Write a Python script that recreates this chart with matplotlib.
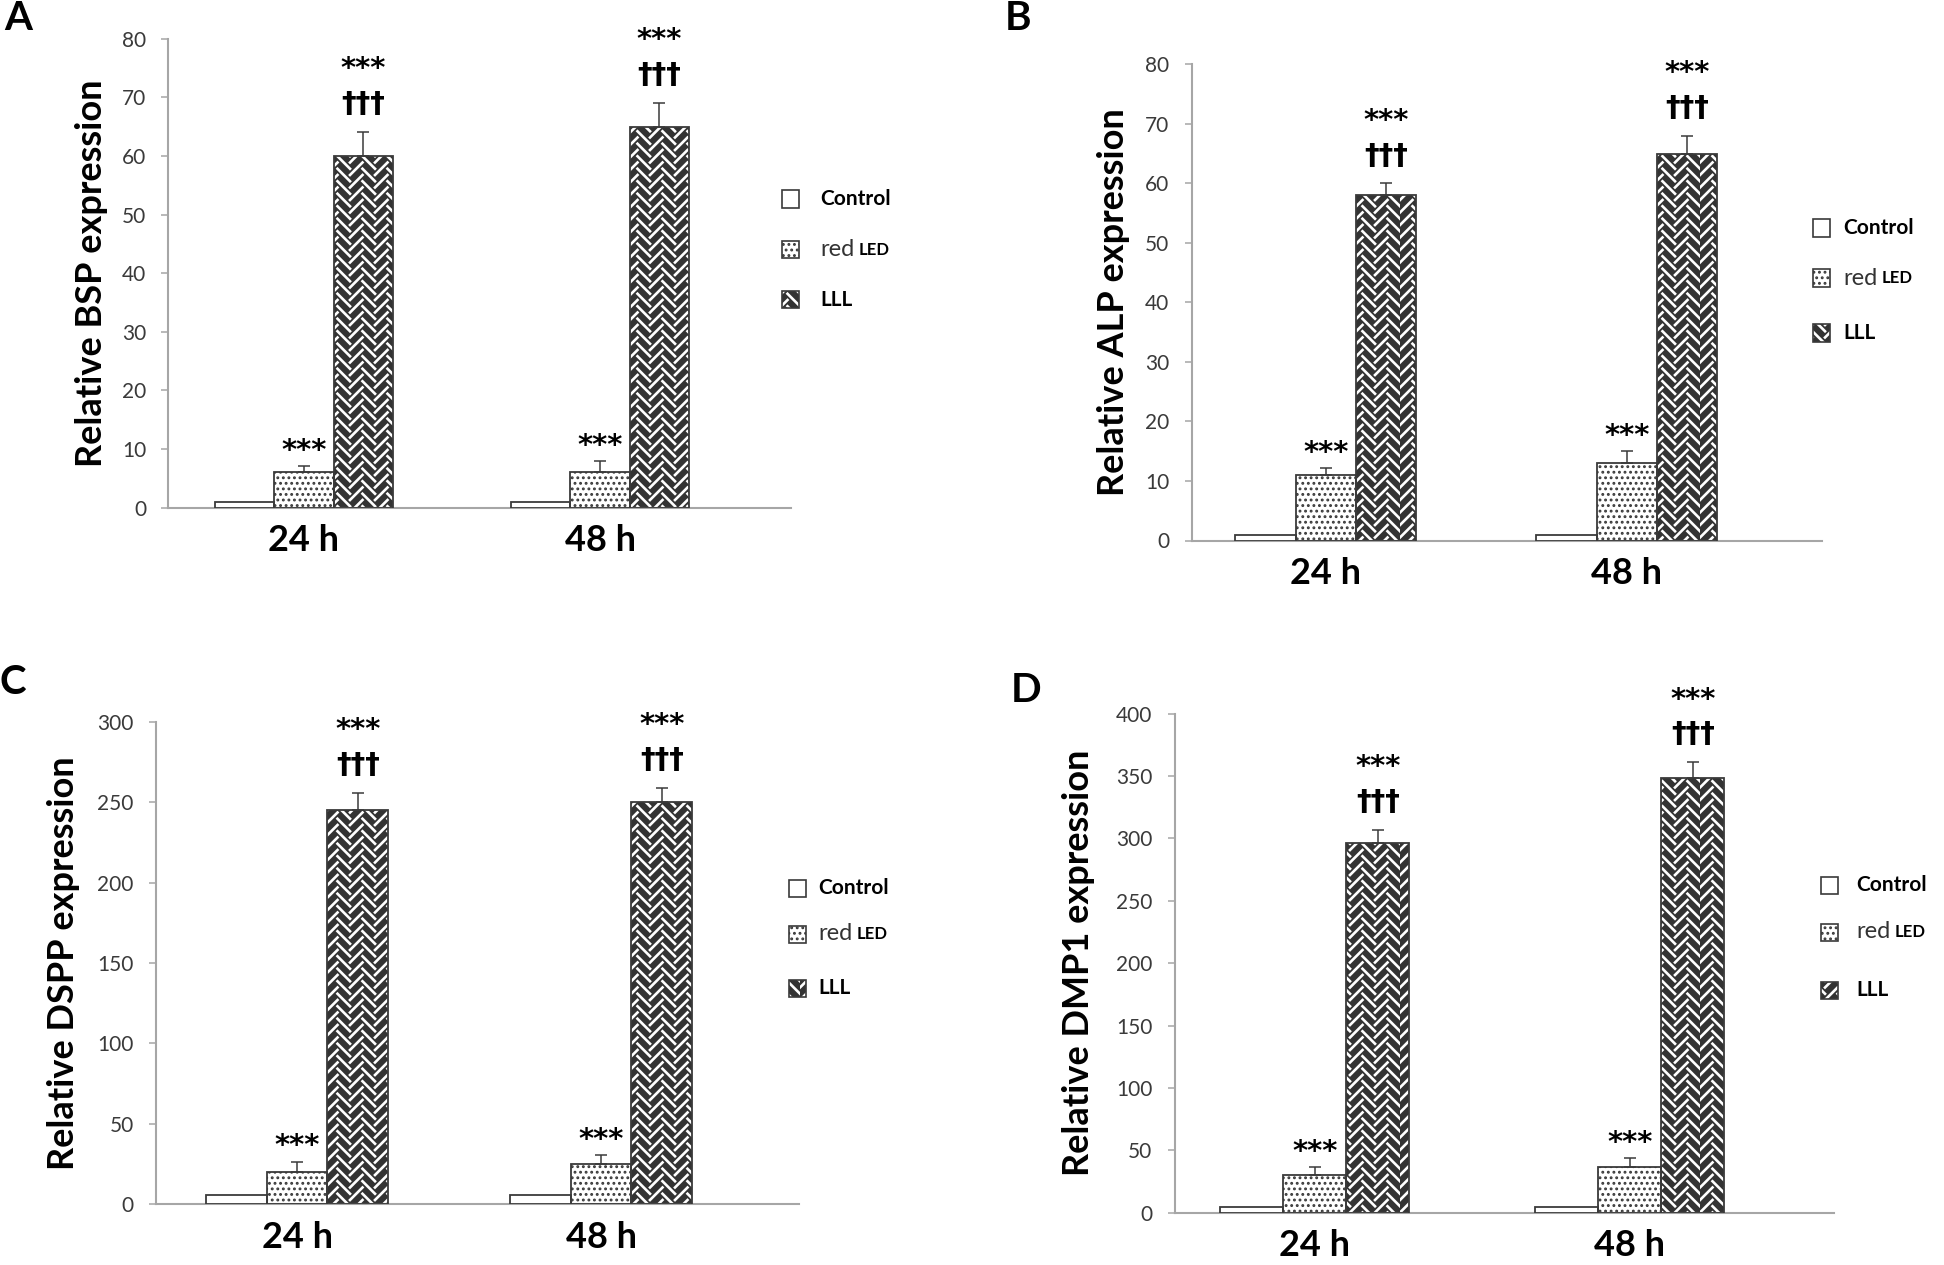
import warnings
import numpy as np
import matplotlib.pyplot as plt
import matplotlib.hatch as mhatch
from matplotlib.path import Path
from matplotlib.patches import Rectangle

warnings.filterwarnings("ignore", message="hatch must consist")


# Excel-like herringbone fill (hatch character 'z'): columns of diagonal
# strokes, alternating direction, every other column shifted half a step
class HerringboneHatch(mhatch.HatchPatternBase):
    def __init__(self, hatch, density):
        n = hatch.count('z')
        self.cols = 2 * int(round(n * density * 0.7))
        self.rows = self.cols
        self.num_vertices = self.cols * (self.rows + 3) * 2 if n else 0

    def set_vertices_and_codes(self, vertices, codes):
        c = 1.0 / self.cols
        s = 1.0 / self.rows
        k = 0
        for j in range(self.cols):
            xa, xb = j * c, (j + 1) * c
            shift = 0 if j % 2 == 0 else s / 2
            for i in range(-2, self.rows + 1):
                ya = i * s + shift
                if j % 2 == 0:
                    vertices[k] = (xa, ya)
                    vertices[k + 1] = (xb, ya + c)
                else:
                    vertices[k] = (xa, ya + c)
                    vertices[k + 1] = (xb, ya)
                codes[k] = Path.MOVETO
                codes[k + 1] = Path.LINETO
                k += 2


mhatch._hatch_types.append(HerringboneHatch)

plt.rcParams['font.family'] = ['Lato', 'DejaVu Sans']
plt.rcParams['hatch.linewidth'] = 1.3

# Data
groups = ["24 h", "48 h"]
series = ["Control", "red", "LLL"]

bsp_control = [1, 1]
bsp_red = [6, 6]
bsp_red_err = [1.1, 1.9]
bsp_lll = [60, 65]
bsp_lll_err = [4.1, 4.1]

alp_control = [1, 1]
alp_red = [11, 13]
alp_red_err = [1.1, 2.0]
alp_lll = [58, 65]
alp_lll_err = [2.0, 3.0]

dspp_control = [6, 6]
dspp_red = [20, 25]
dspp_red_err = [6.5, 5.6]
dspp_lll = [245, 250]
dspp_lll_err = [11, 9]

dmp1_control = [5, 5]
dmp1_red = [30, 37]
dmp1_red_err = [6.6, 6.8]
dmp1_lll = [296, 348]
dmp1_lll_err = [11, 13]

W, H = 1944, 1265
EDGE = "#3a3a3a"
AXIS = "#a6a6a6"
DOTS = ("white", "...", "#3a3a3a", 1.3)
HERRING = ("#333333", "z", "white", 1.9)

fig = plt.figure(figsize=(W / 100, H / 100), dpi=100)


def fx(x):
    return x / W


def fy(y):
    return 1 - y / H


def hatch_lw(artists, lw):
    for a in artists:
        if hasattr(a, "set_hatch_linewidth"):
            a.set_hatch_linewidth(lw)


panels = [
    dict(letter="A", lpos=(18, 19), ylabel="Relative BSP expression",
         control=bsp_control, red=bsp_red, red_err=bsp_red_err, lll=bsp_lll, lll_err=bsp_lll_err,
         ymax=80, step=10, rect=(168.4, 38.8, 791, 507.5), xlim=(-0.458, 1.645), ylab_x=92,
         leg=(782, 820, [199, 249.5, 299.5])),
    dict(letter="B", lpos=(1018, 19), ylabel="Relative ALP expression",
         control=alp_control, red=alp_red, red_err=alp_red_err, lll=alp_lll, lll_err=alp_lll_err,
         ymax=80, step=10, rect=(1191.5, 64.4, 1821.8, 540.5), xlim=(-0.446, 1.648), ylab_x=1114,
         leg=(1813, 1843, [228, 278, 333])),
    dict(letter="C", lpos=(13, 683), ylabel="Relative DSPP expression",
         control=dspp_control, red=dspp_red, red_err=dspp_red_err, lll=dspp_lll, lll_err=dspp_lll_err,
         ymax=300, step=50, rect=(156, 721.8, 799, 1204.2), xlim=(-0.464, 1.651), ylab_x=64,
         leg=(789, 818, [888, 934, 988])),
    dict(letter="D", lpos=(1026, 691), ylabel="Relative DMP1 expression",
         control=dmp1_control, red=dmp1_red, red_err=dmp1_red_err, lll=dmp1_lll, lll_err=dmp1_lll_err,
         ymax=400, step=50, rect=(1174.6, 713.6, 1833.8, 1212.8), xlim=(-0.445, 1.648), ylab_x=1078,
         leg=(1821, 1856, [885, 932, 990])),
]

width = 0.2
x = np.arange(len(groups))
star_font = dict(family="DejaVu Sans", fontweight="bold", fontsize=21)
dag_font = dict(family="DejaVu Sans", fontweight="bold", fontsize=21)

for p in panels:
    x0, y0, x1, y1 = p["rect"]
    ax = fig.add_axes([fx(x0), fy(y1), fx(x1 - x0), (y1 - y0) / H])

    # control: plain white
    ax.bar(x - width, p["control"], width, color="white", edgecolor=EDGE, linewidth=1.3, zorder=3)
    # red LED: dotted
    face, hatch, hcol, lw = DOTS
    bars = ax.bar(x, p["red"], width, color=face, edgecolor=hcol, hatch=hatch, linewidth=0, zorder=2)
    hatch_lw(bars, lw)
    ax.bar(x, p["red"], width, fill=False, edgecolor=EDGE, linewidth=1.3, zorder=3)
    # LLL: herringbone
    face, hatch, hcol, lw = HERRING
    bars = ax.bar(x + width, p["lll"], width, color=face, edgecolor=hcol, hatch=hatch, linewidth=0, zorder=2)
    hatch_lw(bars, lw)
    ax.bar(x + width, p["lll"], width, fill=False, edgecolor=EDGE, linewidth=1.3, zorder=3)

    zeros = np.zeros(len(groups))
    ax.errorbar(x, p["red"], yerr=[zeros, p["red_err"]], fmt="none", ecolor=EDGE,
                elinewidth=1.1, capsize=4.5, capthick=1.1, zorder=4)
    ax.errorbar(x + width, p["lll"], yerr=[zeros, p["lll_err"]], fmt="none", ecolor=EDGE,
                elinewidth=1.1, capsize=4.5, capthick=1.1, zorder=4)

    red_top = np.array(p["red"]) + np.array(p["red_err"])
    lll_top = np.array(p["lll"]) + np.array(p["lll_err"])
    for i in range(len(groups)):
        ax.annotate("***", (x[i], red_top[i]), xytext=(0, 11), textcoords="offset points",
                    ha="center", va="center", annotation_clip=False, **star_font)
        ax.annotate("†††", (x[i] + width, lll_top[i]), xytext=(0, 20), textcoords="offset points",
                    ha="center", va="center", annotation_clip=False, **dag_font)
        ax.annotate("***", (x[i] + width, lll_top[i]), xytext=(0, 45), textcoords="offset points",
                    ha="center", va="center", annotation_clip=False, **star_font)

    ax.set_xlim(*p["xlim"])
    ax.set_ylim(0, p["ymax"])
    ax.set_yticks(np.arange(0, p["ymax"] + 1, p["step"]))
    ax.set_xticks(x)
    ax.set_xticklabels(groups, fontsize=26, fontweight="bold")
    ax.tick_params(axis="x", length=0, pad=12)
    ax.tick_params(axis="y", direction="out", length=5, width=1.1, color=AXIS,
                   labelsize=15, labelcolor="#3a3a3a", pad=11)
    for s in ["top", "right"]:
        ax.spines[s].set_visible(False)
    for s in ["left", "bottom"]:
        ax.spines[s].set_color(AXIS)
        ax.spines[s].set_linewidth(1.5)

    ax.set_ylabel(p["ylabel"], fontsize=26, fontweight="bold", va="center")
    ax.yaxis.set_label_coords((p["ylab_x"] - x0) / (x1 - x0), 0.5)

    fig.text(fx(p["lpos"][0]), fy(p["lpos"][1]), p["letter"], fontsize=29,
             fontweight="bold", ha="center", va="center")

    # legend drawn by hand (mixed font styles in "red LED")
    sq_x, tx, rows = p["leg"]
    sq = 17
    styles = [("white", None, None, 0), DOTS, HERRING]
    for (face, hatch, hcol, lw), ry in zip(styles, rows):
        rect = (fx(sq_x), fy(ry + sq / 2))
        if hatch:
            r = fig.add_artist(Rectangle(rect, sq / W, sq / H, transform=fig.transFigure,
                                         facecolor=face, edgecolor=hcol, hatch=hatch, linewidth=0))
            hatch_lw([r], lw)
        fig.add_artist(Rectangle(rect, sq / W, sq / H, transform=fig.transFigure,
                                 fill=(hatch is None), facecolor=face, edgecolor=EDGE, linewidth=1.2))
    fig.text(fx(tx), fy(rows[0]), series[0], fontsize=15, fontweight="bold", va="center")
    red = fig.text(fx(tx), fy(rows[1]), series[1], fontsize=17, va="center", color="#333333")
    ax.annotate("LED", xy=(1, 0), xycoords=red, xytext=(3, 1.5), textcoords="offset points",
                fontsize=12, fontweight="bold", va="bottom", annotation_clip=False)
    fig.text(fx(tx), fy(rows[2]), series[2], fontsize=15, fontweight="bold", va="center")

fig.savefig("out.png", dpi=100, facecolor="white")
